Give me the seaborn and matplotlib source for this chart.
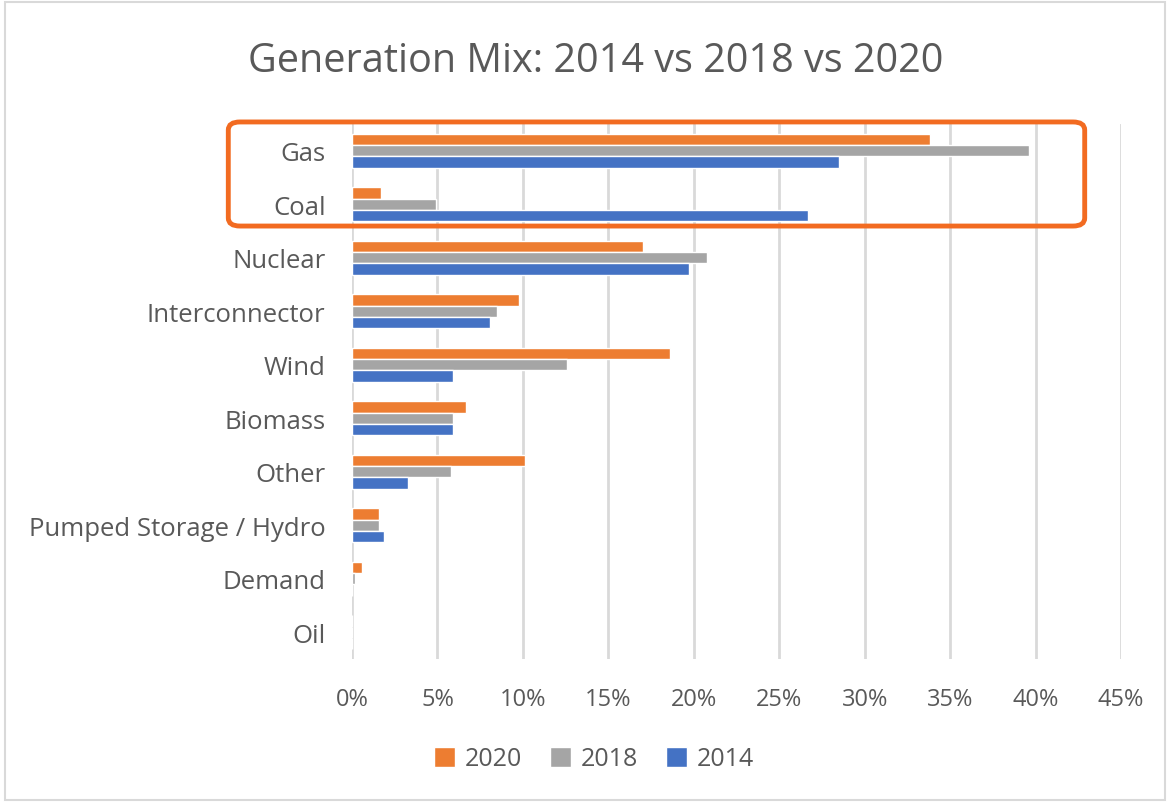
import pandas as pd
import seaborn as sns
import matplotlib.pyplot as plt
from matplotlib.patches import FancyBboxPatch, Rectangle
from matplotlib.ticker import PercentFormatter

# values, in percent
sources = ["Gas", "Coal", "Nuclear", "Interconnector", "Wind", "Biomass",
           "Other", "Pumped Storage / Hydro", "Demand", "Oil"]
mix_2020 = [33.8, 1.7, 17.0, 9.8, 18.6, 6.7, 10.1, 1.6, 0.6, 0.0]
mix_2018 = [39.6, 4.9, 20.8, 8.5, 12.6, 5.9, 5.8, 1.6, 0.2, 0.0]
mix_2014 = [28.5, 26.7, 19.7, 8.1, 5.9, 5.9, 3.3, 1.9, 0.0, 0.0]
years = ["2020", "2018", "2014"]
colors = ["#ED7D31", "#A5A5A5", "#4472C4"]

df = pd.DataFrame({"source": sources, "2020": mix_2020, "2018": mix_2018, "2014": mix_2014})
long = df.melt(id_vars="source", var_name="year", value_name="share")

sns.set_style("white")
plt.rcParams['font.family'] = ['Open Sans', 'DejaVu Sans']
txt = "#595959"

fig = plt.figure(figsize=(11.7, 8.04), dpi=100)
ax = fig.add_axes([352 / 1170, 1 - 660 / 804, (1121 - 352) / 1170, (660 - 125) / 804])

sns.barplot(data=long, y="source", x="share", hue="year", hue_order=years,
            order=sources, palette=colors, width=0.64, saturation=1,
            orient="h", ax=ax, legend=True)

ax.set_xlim(0, 45)
ax.set_xticks(range(0, 46, 5))
ax.xaxis.set_major_formatter(PercentFormatter(decimals=0))
ax.grid(axis="x", color="#D9D9D9", linewidth=2)
ax.set_axisbelow(True)
for s in ax.spines.values():
    s.set_visible(False)
ax.set_xlabel("")
ax.set_ylabel("")
ax.tick_params(axis="x", length=0, labelsize=17, labelcolor=txt, pad=20)
ax.tick_params(axis="y", length=0, labelsize=18.5, labelcolor=txt, pad=19)

handles, labels = ax.get_legend_handles_labels()
ax.legend_.remove()
fig.legend(handles, labels, loc="center", bbox_to_anchor=(594 / 1170, 1 - 760 / 804),
           ncol=3, frameon=False, fontsize=18, labelcolor=txt,
           handlelength=0.85, handleheight=0.85, handletextpad=0.4, columnspacing=1.1)

fig.text(596 / 1170, 1 - 62 / 804, "Generation Mix: 2014 vs 2018 vs 2020",
         ha="center", va="center", fontsize=28.5, color=txt)

# highlight box around Gas and Coal
fig.patches.append(FancyBboxPatch((240 / 1170, 1 - 219 / 804), (1073 - 240) / 1170, (219 - 131) / 804,
                                  boxstyle="round,pad=0.01", transform=fig.transFigure,
                                  facecolor="none", edgecolor="#F26B21", linewidth=3.5))
# chart border
fig.patches.append(Rectangle((0.004, 0.004), 0.992, 0.992, transform=fig.transFigure,
                             facecolor="none", edgecolor="#D9D9D9", linewidth=1.5))

fig.savefig("out.png", dpi=100)
